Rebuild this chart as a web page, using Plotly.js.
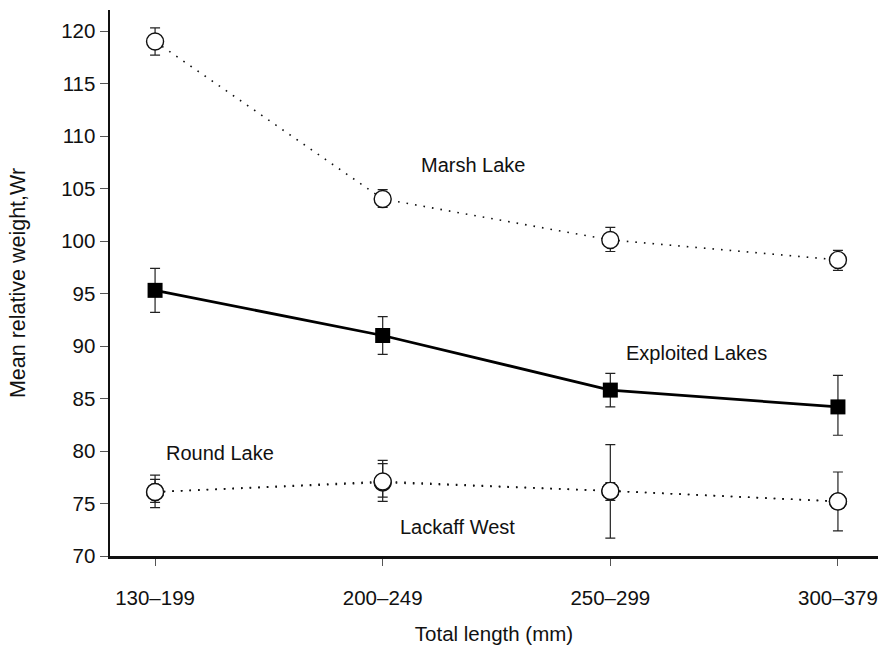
<!DOCTYPE html>
<html>
<head>
<meta charset="utf-8">
<script src="https://cdn.plot.ly/plotly-3.0.1.min.js"></script>
<style>html,body{margin:0;padding:0;background:#fff;}#chart{width:878px;height:645px;}</style>
</head>
<body>
<div id="chart"></div>
<script>
var categories = ["130\u2013199", "200\u2013249", "250\u2013299", "300\u2013379"];

var marshLake = [119.0, 104.0, 100.1, 98.2];
var marshUpper = [120.3, 104.9, 101.3, 99.1];
var marshLower = [117.7, 103.2, 99.0, 97.2];

var exploited = [95.3, 91.0, 85.8, 84.2];
var exploitedUpper = [97.4, 92.8, 87.4, 87.2];
var exploitedLower = [93.2, 89.2, 84.2, 81.5];

var roundLake = [76.1, 77.1, 76.2, 75.2];
var roundUpper = [77.7, 79.1, 77.0, 75.7];
var roundLower = [74.6, 75.2, 75.3, 74.7];

var lackaffWest = [76.1, 77.0, 76.2, 75.2];
var lackaffUpper = [77.3, 78.8, 80.6, 78.0];
var lackaffLower = [75.1, 75.6, 71.7, 72.4];

function diff(a, b) { return a.map(function (v, i) { return Math.abs(v - b[i]); }); }
function errBar(vals, up, lo) {
  return {type: 'data', symmetric: false, array: diff(up, vals), arrayminus: diff(vals, lo),
          color: '#222', thickness: 1.2, width: 5};
}
var idx = categories.map(function (c, i) { return i; });

function circleTrace(name, vals, up, lo) {
  return {
    x: idx, y: vals, name: name, type: 'scatter', mode: 'lines+markers',
    line: {color: '#111', width: 1.6, dash: '1.6px,7px'},
    marker: {symbol: 'circle', size: 17, color: '#fff', line: {color: '#111', width: 1.4}},
    error_y: errBar(vals, up, lo)
  };
}

var traces = [
  circleTrace('Marsh Lake', marshLake, marshUpper, marshLower),
  circleTrace('Lackaff West', lackaffWest, lackaffUpper, lackaffLower),
  circleTrace('Round Lake', roundLake, roundUpper, roundLower),
  {
    x: idx, y: exploited, name: 'Exploited Lakes', type: 'scatter', mode: 'lines+markers',
    line: {color: '#000', width: 2.8},
    marker: {symbol: 'square', size: 15, color: '#000'},
    error_y: errBar(exploited, exploitedUpper, exploitedLower)
  }
];

var fam = 'Liberation Sans, Arial, sans-serif';
var tickFont = {family: fam, size: 20.5, color: '#111'};
var xTitleFont = {family: fam, size: 20.5, color: '#111'};
var yTitleFont = {family: fam, size: 21.5, color: '#111'};
var annFont = {family: fam, size: 20, color: '#111'};

var layout = {
  width: 878, height: 645,
  margin: {l: 110, r: 0, t: 10, b: 89},
  paper_bgcolor: '#fff', plot_bgcolor: '#fff',
  showlegend: false,
  font: tickFont,
  xaxis: {
    range: [-0.198, 3.176],
    tickvals: idx, ticktext: categories,
    ticks: 'outside', ticklen: 7, tickwidth: 1, tickcolor: '#555',
    ticklabelstandoff: 15,
    showgrid: false, zeroline: false,
    showline: true, linecolor: '#111', linewidth: 2.5,
    tickfont: tickFont,
    title: {text: 'Total length (mm)', font: xTitleFont, standoff: 19}
  },
  yaxis: {
    range: [70, 122],
    tickvals: [70, 75, 80, 85, 90, 95, 100, 105, 110, 115, 120],
    ticks: 'outside', ticklen: 8, tickwidth: 1, tickcolor: '#555',
    showgrid: false, zeroline: false,
    showline: true, linecolor: '#111', linewidth: 2.5,
    tickfont: tickFont,
    title: {text: 'Mean relative weight,Wr', font: yTitleFont, standoff: 30}
  },
  annotations: [
    {text: 'Marsh Lake', x: 1.4, y: 107.2, xref: 'x', yref: 'y', showarrow: false, font: annFont},
    {text: 'Exploited Lakes', x: 2.38, y: 89.3, xref: 'x', yref: 'y', showarrow: false, font: annFont},
    {text: 'Round Lake', x: 0.285, y: 79.8, xref: 'x', yref: 'y', showarrow: false, font: annFont},
    {text: 'Lackaff West', x: 1.33, y: 72.76, xref: 'x', yref: 'y', showarrow: false, font: annFont}
  ]
};

Plotly.newPlot('chart', traces, layout, {displayModeBar: false, staticPlot: true});
</script>
</body>
</html>
